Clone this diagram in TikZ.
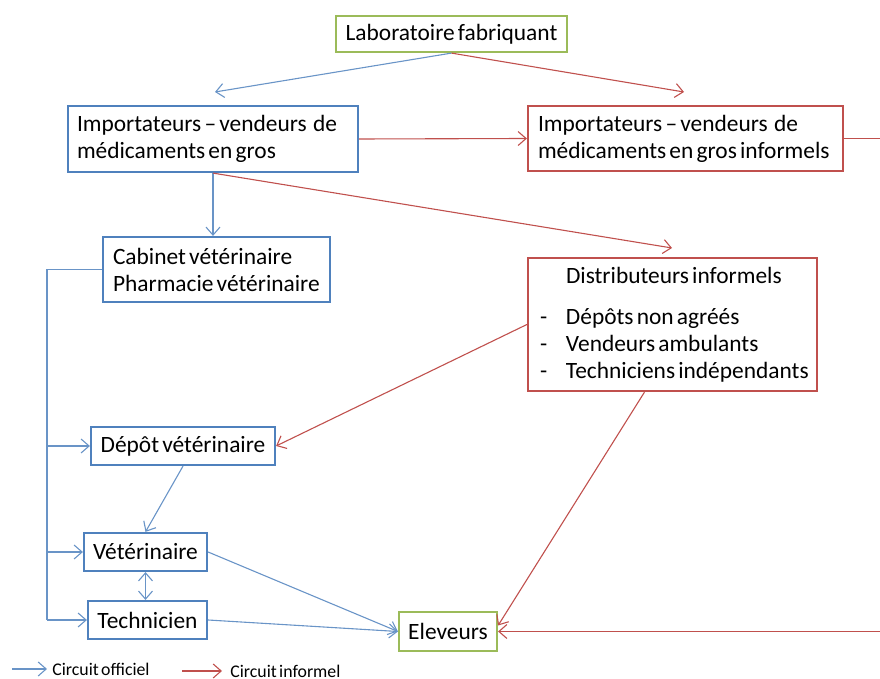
\documentclass[tikz,border=0pt]{standalone}
\usepackage{fontspec}
\setmainfont{Carlito}[WordSpace=0.6]
\usetikzlibrary{arrows.meta}
\definecolor{offblue}{HTML}{4F81BD}
\definecolor{infred}{HTML}{C0504D}
\definecolor{labgreen}{HTML}{9BBB59}
\begin{document}
\begin{tikzpicture}[x=0.5pt,y=-0.5pt,
    font=\fontsize{11.7}{13.5}\selectfont,
    box/.style={draw,line width=1.1pt,fill=white,inner ysep=0pt,minimum height=19pt},
    bluebox/.style={box,draw=offblue},
    redbox/.style={box,draw=infred},
    greenbox/.style={box,draw=labgreen},
    lefttext/.style={align=left,execute at begin node={\spaceskip=0pt\xspaceskip=0pt\relax}},
    tip/.style={-{Straight Barb[length=4pt,width=7pt]}},
    bluearrow/.style={tip,draw=offblue!85,line width=0.55pt},
    redarrow/.style={tip,draw=infred,line width=0.55pt},
    legend/.style={font=\fontsize{8.9}{10}\selectfont,anchor=west}]
    \useasboundingbox (0,0) rectangle (880,679);
    \node[greenbox,minimum width=115.5pt,minimum height=18pt] (lab) at (451.5,34) {Laboratoire fabriquant};
    \node[bluebox,lefttext,inner xsep=4.5pt,text width=136pt,minimum height=33pt] (imp) at (213,139)
      {\mbox{Importateurs -- vendeurs~ de}\\\mbox{médicaments en gros}};
    \node[redbox,lefttext,inner xsep=5pt,text width=147.5pt,minimum height=32.5pt] (impinf) at (685.5,138.5)
      {\mbox{Importateurs -- vendeurs~ de}\\\mbox{médicaments en gros informels}};
    \node[bluebox,lefttext,inner xsep=5pt,text width=103.5pt,minimum height=32.5pt] (cab) at (216.5,269.5)
      {\mbox{Cabinet vétérinaire}\\\mbox{Pharmacie vétérinaire}};
    \node[redbox,lefttext,inner xsep=6pt,text width=132.5pt,minimum height=66.5pt] (distr) at (672.5,324.5)
      {\hspace*{13pt}\mbox{Distributeurs informels}\\[7pt]
       \makebox[13pt][l]{-}\mbox{Dépôts non agréés}\\
       \makebox[13pt][l]{-}\mbox{Vendeurs ambulants}\\
       \makebox[13pt][l]{-}\mbox{Techniciens indépendants}};
    \node[bluebox,minimum width=92pt] (depot) at (183,446) {Dépôt vétérinaire};
    \node[bluebox,minimum width=61.5pt] (vet) at (145.5,552) {Vétérinaire};
    \node[bluebox,minimum width=59.5pt] (tech) at (147.5,620) {Technicien};
    \node[greenbox,minimum width=49pt,minimum height=19.5pt] (elev) at (448,631.5) {Eleveurs};
    \coordinate (labl) at (215,92);
    \coordinate (labr) at (684,92);
    \coordinate (distrtop) at (672,248);
    \coordinate (trunk) at (47,269.5);
    \coordinate (trunkend) at (47,620);
    \coordinate (edgetop) at (880,138.5);
    \coordinate (edgebot) at (880,631.5);
    \draw[bluearrow] (lab.south) -- (labl);
    \draw[redarrow] (lab.south) -- (labr);
    \draw[redarrow] (imp.east) -- (impinf.west);
    \draw[infred,line width=0.55pt] (impinf.east) -- (edgetop);
    \draw[bluearrow] (imp.south) -- (imp.south |- cab.north);
    \draw[redarrow] (imp.south) -- (distrtop);
    \draw[offblue!85,line width=0.55pt] (cab.west) -- (trunk) -- (trunkend);
    \draw[bluearrow] (trunk |- depot.west) -- (depot.west);
    \draw[bluearrow] (trunk |- vet.west) -- (vet.west);
    \draw[bluearrow] (trunkend) -- (tech.west);
    \draw[redarrow] (distr.west) -- (depot.east);
    \draw[redarrow] ([xshift=-14pt]distr.south) -- ([yshift=3pt]elev.east);
    \draw[redarrow] (edgebot) -- (elev.east);
    \draw[bluearrow] (depot.south) -- (vet.north);
    \draw[bluearrow,{Straight Barb[length=4pt,width=7pt]}-{Straight Barb[length=4pt,width=7pt]}] (vet.south) -- (vet.south |- tech.north);
    \draw[bluearrow] (vet.east) -- (elev.west);
    \draw[bluearrow] (tech.east) -- (elev.west);
    \coordinate (legb) at (12,669);
    \coordinate (legr) at (182,671);
    \node[legend,inner xsep=2.5pt] (offi) at (47,669) {Circuit officiel};
    \node[legend,inner xsep=4pt] (info) at (222,671) {Circuit informel};
    \draw[bluearrow] (legb) -- (offi.west);
    \draw[redarrow] (legr) -- (info.west);
\end{tikzpicture}
\end{document}
